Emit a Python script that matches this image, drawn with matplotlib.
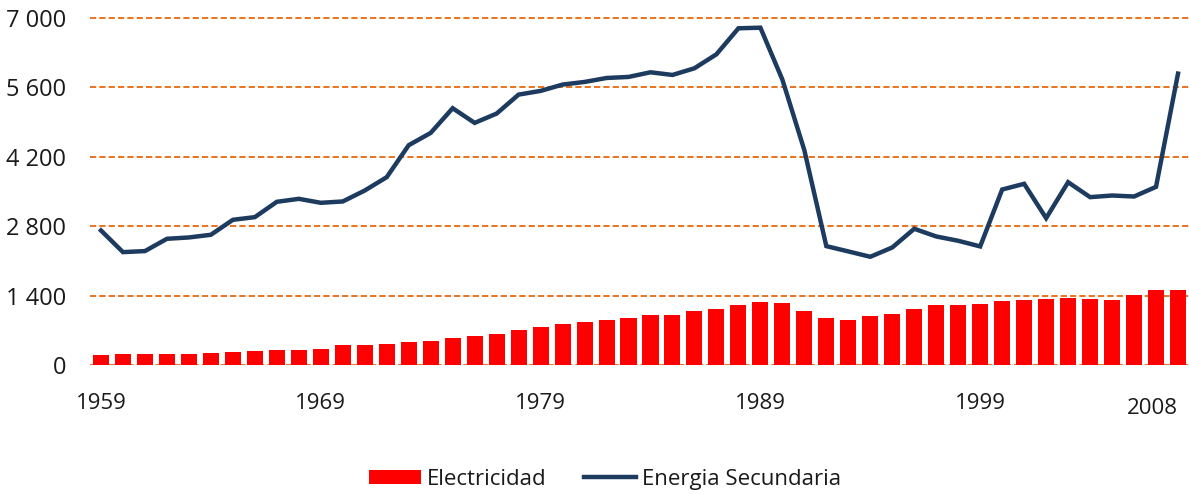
import matplotlib
matplotlib.use("Agg")
import matplotlib.pyplot as plt
from matplotlib.patches import Patch
from matplotlib.lines import Line2D
import numpy as np

years = list(range(1959, 2009))
electricidad = [193, 213, 213, 213, 213, 233, 253, 273, 293, 293,
                313, 413, 413, 433, 473, 493, 553, 593, 633, 713,
                773, 833, 873, 910, 953, 1013, 1013, 1093, 1133, 1213,
                1273, 1253, 1093, 953, 913, 993, 1033, 1133, 1213, 1213,
                1233, 1293, 1313, 1333, 1353, 1333, 1313, 1413, 1513, 1513]
energia_secundaria = [2714, 2277, 2298, 2546, 2573, 2627, 2929, 2983, 3292, 3352,
                      3272, 3299, 3520, 3789, 4434, 4682, 5180, 4884, 5072, 5455,
                      5529, 5657, 5710, 5790, 5811, 5905, 5851, 5986, 6268, 6792,
                      6805, 5757, 4333, 2398, 2291, 2183, 2371, 2748, 2593, 2506,
                      2392, 3540, 3655, 2963, 3688, 3386, 3419, 3399, 3594, 5878]
yticks = [0, 1400, 2800, 4200, 5600, 7000]
ytick_labels = ["0", "1 400", "2 800", "4 200", "5 600", "7 000"]
xtick_years = [1959, 1969, 1979, 1989, 1999]

plt.rcParams['font.family'] = ['Open Sans', 'DejaVu Sans']
text_color = "#1a1a1a"

fig = plt.figure(figsize=(11.89, 4.94), dpi=100)
H = 494.0
top_px = 13
ymax = 7000 * (365 - top_px) / (365 - 18)
ax = fig.add_axes([90 / 1189, (H - 365) / H, 1 - 90 / 1189, (365 - top_px) / H])

x = np.arange(len(years))
ax.set_xlim(-0.5, len(years) - 0.5)
ax.set_ylim(0, ymax)

for yt in yticks:
    ax.axhline(yt, color="#E8731E", lw=1.4, ls=(0, (3.2, 1.6)), zorder=1)

ax.bar(x, electricidad, width=0.73, color="#FF0000", zorder=2)
ax.plot(x, energia_secundaria, color="#1D3A5F", lw=3.2, zorder=3,
        solid_joinstyle="miter")

for s in ax.spines.values():
    s.set_visible(False)

ax.set_yticks(yticks)
ax.set_yticklabels(ytick_labels, fontsize=17, color=text_color)
ax.tick_params(axis="y", length=0, pad=17)

xt = [years.index(y) for y in xtick_years]
ax.set_xticks(xt)
ax.set_xticklabels([str(y) for y in xtick_years], fontsize=16, color=text_color)
ax.tick_params(axis="x", length=0, pad=20)
ax.text(len(years) - 1 + 0.0, -0.093, "2008", transform=ax.get_xaxis_transform(),
        ha="right", va="top", fontsize=16, color=text_color)

handles = [Patch(facecolor="#FF0000", edgecolor="none", label="Electricidad"),
           Line2D([0], [0], color="#1D3A5F", lw=3.2, label="Energia Secundaria")]
fig.legend(handles=handles, loc="center", bbox_to_anchor=(605 / 1189, (H - 479) / H),
           ncol=2, frameon=False, fontsize=16, handlelength=2.35, handleheight=0.6,
           handletextpad=0.27, columnspacing=1.67, labelcolor=text_color)

fig.savefig("out.png", dpi=100)
